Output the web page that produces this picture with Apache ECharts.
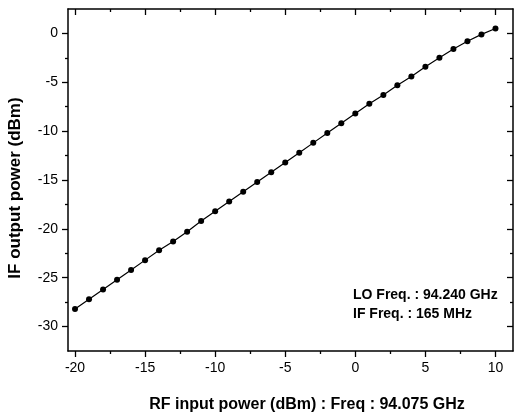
<!DOCTYPE html>
<html>
<head>
<meta charset="utf-8">
<script src="https://cdn.jsdelivr.net/npm/echarts@6/dist/echarts.min.js"></script>
<style>
html,body{margin:0;padding:0;background:#fff;}
#chart{width:515px;height:417px;}
</style>
</head>
<body>
<div id="chart"></div>
<script>
const rfInput = [-20,-19,-18,-17,-16,-15,-14,-13,-12,-11,-10,-9,-8,-7,-6,-5,-4,-3,-2,-1,0,1,2,3,4,5,6,7,8,9,10];
const ifOutput = [-28.2,-27.2,-26.2,-25.2,-24.2,-23.2,-22.2,-21.3,-20.3,-19.2,-18.2,-17.2,-16.2,-15.2,-14.2,-13.2,-12.2,-11.2,-10.2,-9.2,-8.2,-7.2,-6.3,-5.3,-4.4,-3.4,-2.5,-1.6,-0.8,-0.1,0.5];
const xMajor = [-20,-15,-10,-5,0,5,10];
const xMinor = [-17.5,-12.5,-7.5,-2.5,2.5,7.5];
const yMajor = [-30,-25,-20,-15,-10,-5,0];
const yMinor = [-27.5,-22.5,-17.5,-12.5,-7.5,-2.5];
const xTitle = 'RF input power (dBm) : Freq : 94.075 GHz';
const yTitle = 'IF output power (dBm)';
const notes = ['LO Freq. : 94.240 GHz', 'IF Freq. : 165 MHz'];

const X_MIN = -20.5, X_MAX = 11.25, Y_MIN = -32.5, Y_MAX = 2.5;
const FONT = '"Liberation Sans", Arial, sans-serif';

function axLine(show) {
  return {show:show, onZero:false, lineStyle:{color:'#000', width:1.5}};
}
function xAx(pos, ticks, len, inside, showLine, labels) {
  return {
    type:'value', position:pos, min:X_MIN, max:X_MAX, gridIndex:0,
    axisLine: axLine(showLine),
    axisTick:{show:true, inside:inside, length:len, customValues:ticks, lineStyle:{color:'#000', width:1.3}},
    axisLabel: labels ? {show:true, customValues:ticks, color:'#000', fontSize:14, fontFamily:FONT, margin:10} : {show:false},
    splitLine:{show:false}
  };
}
function yAx(pos, ticks, len, inside, showLine, labels) {
  return {
    type:'value', position:pos, min:Y_MIN, max:Y_MAX, gridIndex:0,
    axisLine: axLine(showLine),
    axisTick:{show:true, inside:inside, length:len, customValues:ticks, lineStyle:{color:'#000', width:1.3}},
    axisLabel: labels ? {show:true, customValues:ticks, color:'#000', fontSize:14, fontFamily:FONT, margin:10} : {show:false},
    splitLine:{show:false}
  };
}

const chart = echarts.init(document.getElementById('chart'), null, {renderer:'canvas'});
chart.setOption({
  animation:false,
  backgroundColor:'#fff',
  grid:{left:68, top:9, width:445, height:342, containLabel:false},
  xAxis:[
    xAx('bottom', xMajor, 6, false, true, true),
    xAx('bottom', xMinor, 3, false, false, false),
    xAx('top', xMajor, 6, true, true, false),
    xAx('top', xMinor, 3, true, false, false)
  ],
  yAxis:[
    yAx('left', yMajor, 6, false, true, true),
    yAx('left', yMinor, 3, false, false, false),
    yAx('right', yMajor, 6, true, true, false),
    yAx('right', yMinor, 3, true, false, false)
  ],
  series:[{
    type:'line',
    xAxisIndex:0, yAxisIndex:0,
    data: rfInput.map((x,i)=>[x, ifOutput[i]]),
    symbol:'circle', symbolSize:6,
    itemStyle:{color:'#000'},
    lineStyle:{color:'#000', width:1.2}
  }],
  graphic:[
    {type:'text', x:307, y:405, style:{text:xTitle, font:'bold 16px '+FONT, fill:'#000', align:'center', verticalAlign:'middle'}},
    {type:'text', x:15, y:188, rotation:Math.PI/2, style:{text:yTitle, font:'bold 17px '+FONT, fill:'#000', align:'center', verticalAlign:'middle'}},
    {type:'text', x:353, y:295, style:{text:notes[0], font:'bold 14px '+FONT, fill:'#000', align:'left', verticalAlign:'middle'}},
    {type:'text', x:353, y:314, style:{text:notes[1], font:'bold 14px '+FONT, fill:'#000', align:'left', verticalAlign:'middle'}}
  ]
});
</script>
</body>
</html>
